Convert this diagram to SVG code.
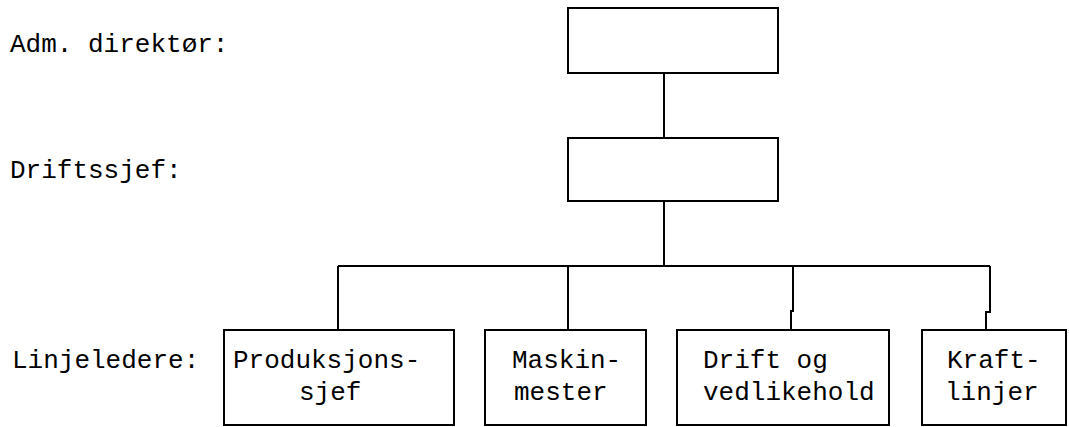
<svg xmlns="http://www.w3.org/2000/svg" width="1069" height="427" viewBox="0 0 1069 427">
<style>
.box{fill:#fff;stroke:#000;stroke-width:2}
.ln{fill:none;stroke:#000;stroke-width:2}
text{font-family:"Liberation Mono","DejaVu Sans Mono",monospace;font-size:26px;fill:#000}
</style>
<rect width="1069" height="427" fill="#fff"/>
<g id="labels">
<text x="10" y="52">Adm. direktør:</text>
<text x="10" y="178">Driftssjef:</text>
<text x="12" y="368">Linjeledere:</text>
</g>
<g id="connectors">
<line class="ln" x1="664" y1="73" x2="664" y2="138"/>
<line class="ln" x1="664" y1="201" x2="664" y2="266"/>
<line class="ln" x1="338" y1="266" x2="990" y2="266"/>
<line class="ln" x1="338" y1="266" x2="338" y2="330"/>
<line class="ln" x1="568" y1="266" x2="568" y2="330"/>
<polyline class="ln" points="793,266 793,311 791,311 791,330"/>
<polyline class="ln" points="990,266 990,312 986,312 986,330"/>
</g>
<g id="adm-direktor"><rect class="box" x="568" y="8" width="210" height="65"/></g>
<g id="driftssjef"><rect class="box" x="568" y="138" width="210" height="63"/></g>
<g id="produksjonssjef"><rect class="box" x="224" y="330" width="230" height="95"/>
<text x="233" y="368">Produksjons-</text><text x="299" y="400">sjef</text></g>
<g id="maskinmester"><rect class="box" x="485" y="330" width="161" height="95"/>
<text x="512" y="368">Maskin-</text><text x="514" y="400">mester</text></g>
<g id="drift-vedlikehold"><rect class="box" x="677" y="330" width="212" height="95"/>
<text x="703" y="368">Drift og</text><text x="703" y="400">vedlikehold</text></g>
<g id="kraftlinjer"><rect class="box" x="922" y="330" width="144" height="95"/>
<text x="947" y="368">Kraft-</text><text x="945" y="400">linjer</text></g>
</svg>
